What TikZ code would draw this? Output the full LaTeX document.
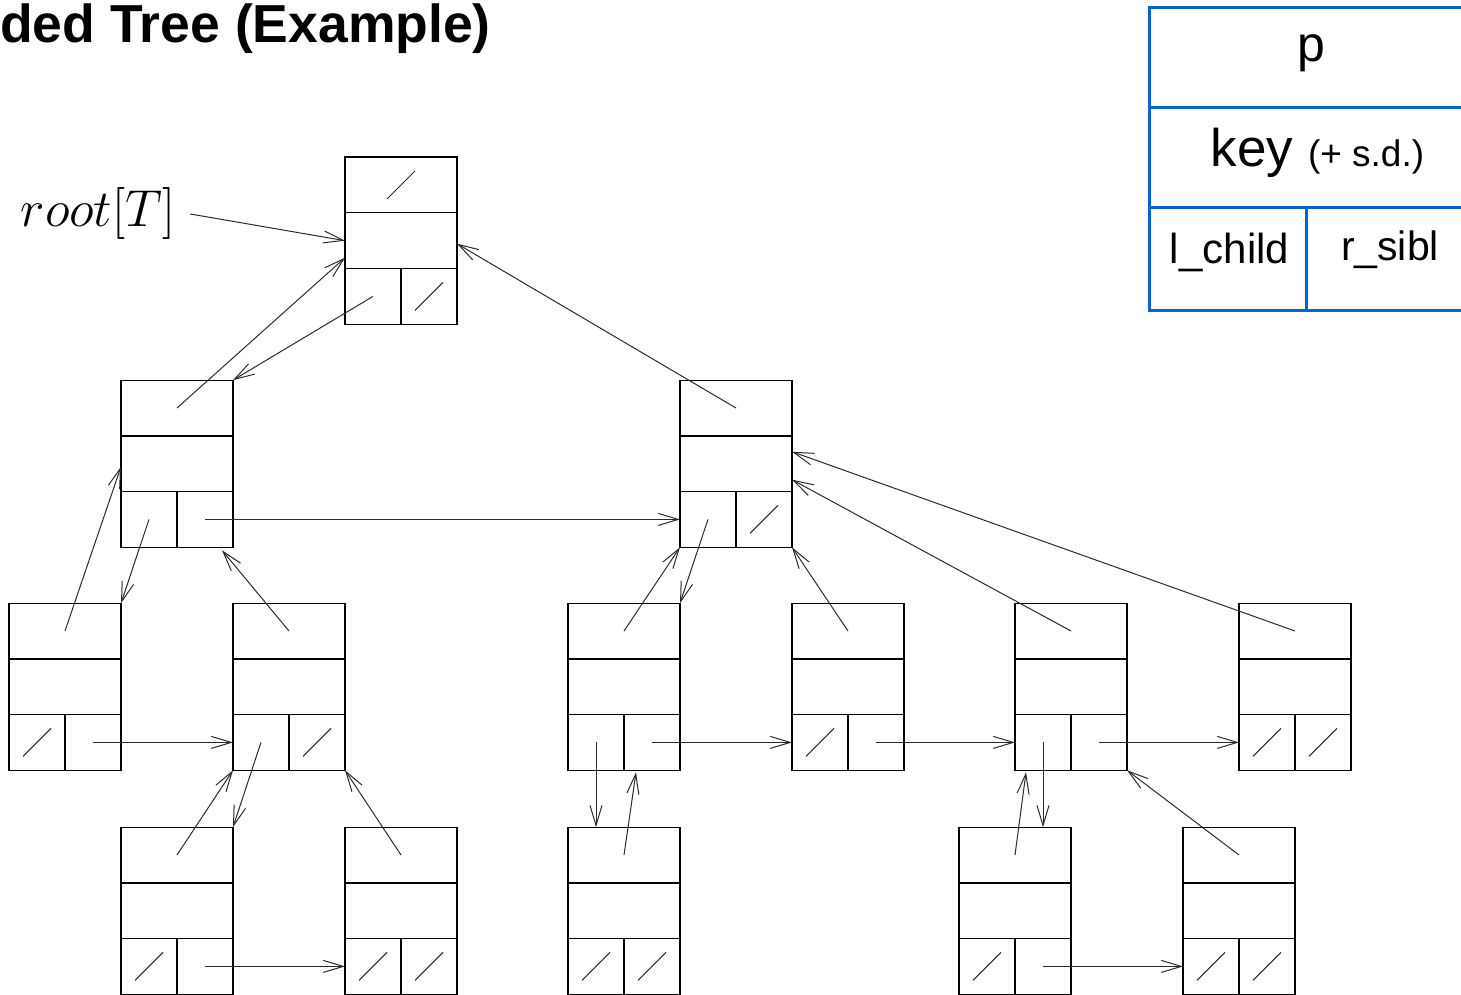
\RequirePackage{fix-cm}
\documentclass[tikz,border=0pt]{standalone}
\usepackage{fontspec}
\newfontfamily\arialfont{Liberation Sans}
\usepackage{xcolor}
\definecolor{legblue}{HTML}{0066CC}
\definecolor{linegray}{HTML}{2B2B2B}
\usetikzlibrary{arrows.meta, positioning, calc}

\begin{document}
\begin{tikzpicture}[
        x=1pt, y=-1pt,
        cell/.style={
            rectangle,
            draw=black,
            line width=1.3pt,
            minimum width=112pt,
            minimum height=55.7pt,
            inner sep=0pt,
            outer sep=0pt
        },
        half/.style={
            cell,
            minimum width=56pt
        },
        ptr/.style={
            -{Straight Barb[length=20pt, width=12pt]},
            draw=linegray,
            line width=1pt
        },
        nil/.style={
            draw=linegray,
            line width=1pt
        },
        legcell/.style={
            rectangle,
            draw=legblue,
            line width=3pt,
            inner sep=0pt,
            outer sep=0pt
        }
    ]

    \useasboundingbox (0,0) rectangle (1461,995);
    \clip (0,0) rectangle (1461,995);

    % Title
    \node[anchor=base west, inner sep=0pt, font=\arialfont\bfseries\fontsize{53.5}{60}\selectfont] (title) at (0,43) {ded Tree (Example)};

    % Legend
    \node[legcell, minimum width=325pt, minimum height=100pt, text height=30pt, text depth=22pt, font=\arialfont\fontsize{50}{60}\selectfont] (leg-p) at (1311.5,58) {p};
    \node[legcell, minimum width=325pt, minimum height=100pt, below=0pt of leg-p, text height=36pt, text depth=18pt, font=\arialfont\fontsize{53}{60}\selectfont] (leg-k) {\hspace*{12pt}key {\fontsize{37}{44}\selectfont (+ s.d.)}};
    \node[legcell, minimum width=157pt, minimum height=102pt, below right=0pt and 0pt of leg-k.south west, text height=30pt, text depth=22pt, font=\arialfont\fontsize{42}{50}\selectfont] (leg-l) {\hspace*{4pt}l\_child};
    \node[legcell, minimum width=168pt, minimum height=102pt, right=0pt of leg-l, text height=26pt, text depth=24pt, font=\arialfont\fontsize{41}{50}\selectfont] (leg-r) {r\_sibl};

    % Records
    \foreach \nm/\x/\y in {r/401/185, a/177/408, b/736/408, c/65/631, d/289/631, g/624/631, h/848/631, i/1071/631, j/1295/631, e/177/855, f/401/855, k/624/855, l/1015/855, m/1239/855}{
        \node[cell] (\nm-p) at (\x,\y) {};
        \node[cell, below=0pt of \nm-p] (\nm-k) {};
        \node[half, below right=0pt and 0pt of \nm-k.south west] (\nm-l) {};
        \node[half, right=0pt of \nm-l] (\nm-r) {};
    }

    % Nil pointers
    \foreach \c in {r-p, r-r, b-r, c-l, d-r, h-l, j-l, j-r, e-l, f-l, f-r, k-l, k-r, l-l, m-l, m-r}
        \draw[nil] ($(\c.center)+(-14,14)$) -- ($(\c.center)+(14,-14)$);

    % Root label
    \node[inner sep=0pt, outer sep=15pt, font=\fontsize{52}{62}\selectfont] (rootlbl) at (98,214) {$root[T]$};

    % Pointers
    \draw[ptr] (rootlbl.east) -- (r-k.west);
    \draw[ptr] (a-p.center) -- ($(r-k.west)+(0,17)$);
    \draw[ptr] (r-l.center) -- (a-p.north east);
    \draw[ptr] (b-p.center) -- ($(r-k.east)+(0,3)$);
    \draw[ptr] (a-r.center) -- (b-l.west);
    \draw[ptr] (a-l.center) -- (c-p.north east);
    \draw[ptr] (c-p.center) -- ($(a-k.west)+(0,3)$);
    \draw[ptr] (d-p.center) -- ($(a-r.south east)+(-11,3)$);
    \draw[ptr] (c-r.center) -- (d-l.west);
    \draw[ptr] (d-l.center) -- (e-p.north east);
    \draw[ptr] (e-p.center) -- (d-l.south west);
    \draw[ptr] (f-p.center) -- (d-r.south east);
    \draw[ptr] (e-r.center) -- (f-l.west);
    \draw[ptr] (b-l.center) -- (g-p.north east);
    \draw[ptr] (g-p.center) -- (b-l.south west);
    \draw[ptr] (h-p.center) -- (b-r.south east);
    \draw[ptr] (i-p.center) -- ($(b-k.east)+(0,16)$);
    \draw[ptr] (j-p.center) -- ($(b-k.east)+(0,-12)$);
    \draw[ptr] (g-r.center) -- (h-l.west);
    \draw[ptr] (h-r.center) -- (i-l.west);
    \draw[ptr] (i-r.center) -- (j-l.west);
    \draw[ptr] (g-l.center) -- (g-l.center |- k-p.north);
    \draw[ptr] (k-p.center) -- ($(g-r.south west)+(12,2)$);
    \draw[ptr] (i-l.center) -- (i-l.center |- l-p.north);
    \draw[ptr] (l-p.center) -- ($(i-l.south west)+(11,2)$);
    \draw[ptr] (m-p.center) -- (i-r.south east);
    \draw[ptr] (l-r.center) -- (m-l.west);

\end{tikzpicture}
\end{document}
